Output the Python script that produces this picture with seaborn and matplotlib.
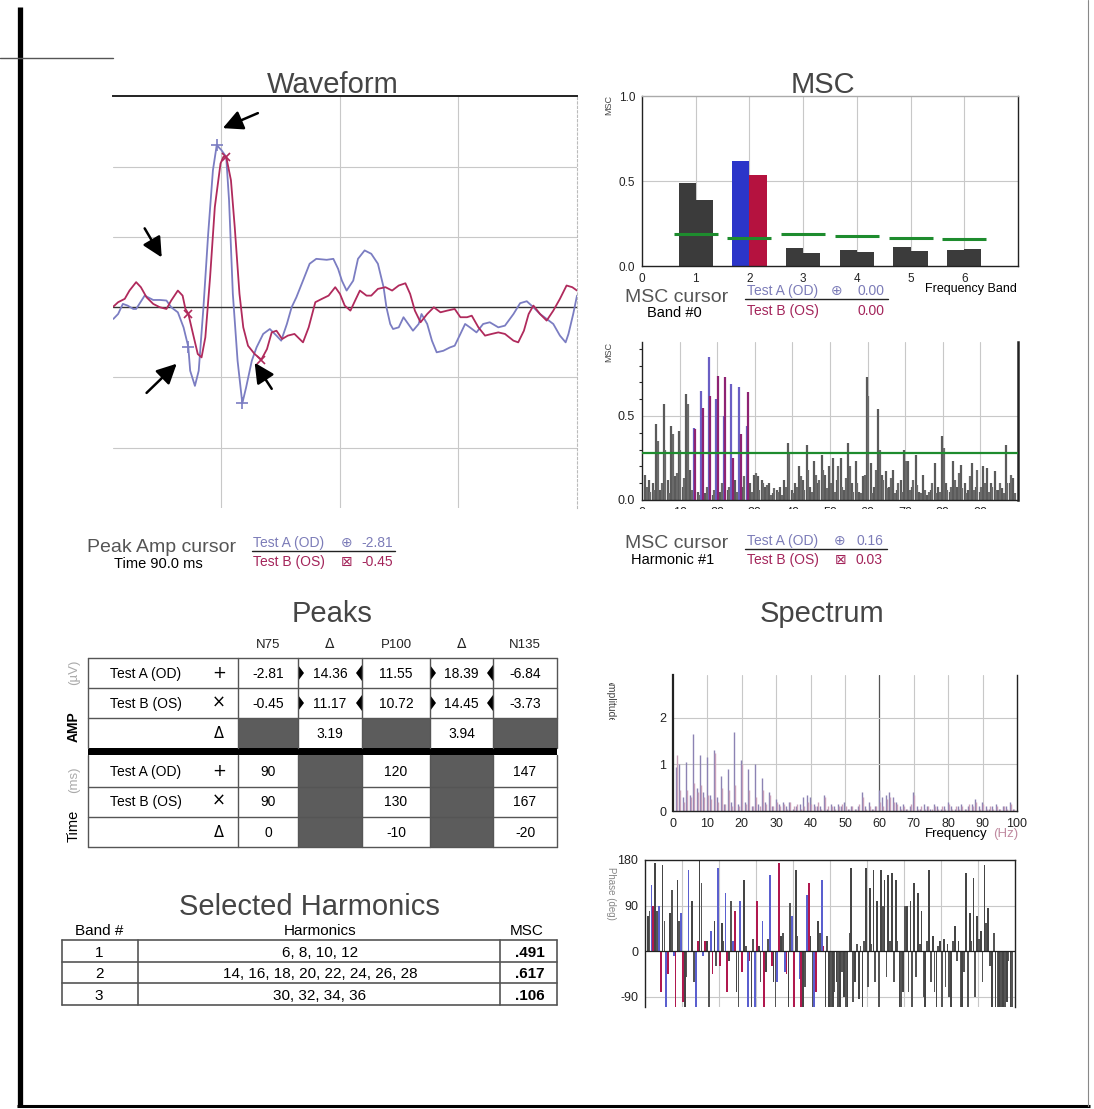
import numpy as np
import pandas as pd
import matplotlib
matplotlib.use("Agg")
import matplotlib.pyplot as plt
import seaborn as sns
from matplotlib.patches import Rectangle, Polygon
from matplotlib.transforms import Bbox

# ---------------- data ----------------
# Waveform (time in ms, amplitude in uV)
wave_a_t = [11, 16, 21, 26, 32, 35, 44, 53, 60, 67, 72, 79, 85, 90, 92, 97, 101, 106, 111, 116,
            120, 125, 130, 133, 137, 142, 147, 151, 157, 162, 169, 176, 183, 188, 194, 199, 204,
            211, 218, 225, 236, 243, 248, 252, 257, 264, 269, 276, 283, 290, 296, 299, 303, 306,
            312, 317, 322, 327, 333, 336, 342, 347, 352, 359, 366, 371, 377, 382, 387, 394, 401,
            408, 417, 424, 433, 440, 447, 454, 461, 468, 475, 482, 488, 491, 496, 500]
wave_a_v = [-0.83, -0.48, 0.24, 0.12, -0.12, -0.12, 0.83, 0.52, 0.52, 0.48, 0.0, -0.36, -1.43,
            -2.81, -4.52, -5.60, -4.52, 0.0, 5.24, 9.76, 11.55, 11.19, 10.71, 7.62, 0.95, -3.81,
            -6.84, -5.71, -3.81, -2.86, -1.90, -1.55, -2.02, -2.38, -1.19, 0.0, 0.71, 1.90, 3.10,
            3.45, 3.38, 3.45, 2.74, 1.90, 1.19, 1.90, 3.45, 4.05, 3.81, 3.10, 1.43, 0.0, -1.19,
            -1.55, -1.43, -0.71, -1.19, -1.67, -1.19, -0.48, -1.19, -2.38, -3.21, -3.10, -2.86,
            -2.74, -1.90, -1.19, -1.43, -1.79, -1.19, -1.07, -1.43, -1.31, -0.48, 0.29, 0.43, 0.0,
            -0.48, -0.83, -1.19, -2.02, -2.50, -1.90, -0.48, 0.83]
wave_b_t = [11, 16, 23, 28, 35, 40, 46, 53, 60, 67, 72, 79, 84, 87, 90, 95, 100, 104, 108, 113,
            118, 124, 127, 130, 135, 139, 144, 148, 153, 160, 167, 173, 178, 183, 189, 195, 202,
            211, 217, 224, 231, 238, 245, 250, 255, 261, 266, 271, 278, 283, 290, 298, 305, 312,
            319, 324, 329, 335, 342, 349, 356, 363, 371, 377, 384, 389, 396, 403, 410, 417, 424,
            433, 438, 444, 449, 454, 461, 468, 475, 482, 489, 495, 500]
wave_b_v = [0.05, 0.36, 0.60, 1.19, 1.79, 1.43, 0.71, 0.24, 0.0, -0.12, 0.48, 1.19, 0.83, -0.12,
            -0.45, -1.90, -3.33, -3.57, -2.14, 2.14, 7.14, 10.24, 10.71, 10.72, 9.05, 5.71, 0.95,
            -1.43, -2.74, -3.33, -3.73, -2.98, -1.79, -1.67, -2.26, -2.02, -1.90, -2.50, -1.43,
            0.36, 0.60, 0.83, 1.43, 0.95, 0.12, -0.24, 0.48, 1.19, 0.83, 0.83, 1.31, 1.43, 1.19,
            1.55, 1.71, 0.95, -0.24, -1.07, -0.48, 0.0, -0.36, -0.24, -0.12, -0.71, -0.71, -0.60,
            -1.43, -2.02, -1.90, -1.79, -1.90, -2.38, -2.50, -1.67, -0.48, 0.12, -0.48, -0.95,
            -0.24, 0.60, 1.55, 1.43, 1.19]
peak_names = ["N75", "P100", "N135"]
peak_a_t = [90, 120, 147]
peak_a_v = [-2.81, 11.55, -6.84]
peak_b_t = [90, 130, 167]
peak_b_v = [-0.45, 10.72, -3.73]

# MSC per frequency band
bands = [1, 2, 3, 4, 5, 6]
band_msc_a = [0.491, 0.617, 0.106, 0.094, 0.112, 0.092]
band_msc_b = [0.387, 0.534, 0.079, 0.084, 0.088, 0.098]
band_crit = [0.19, 0.165, 0.19, 0.175, 0.167, 0.157]

# per-harmonic values (harmonic 1..99)
harmonics = list(range(1, 100))
msc_a = [0.15, 0.12, 0.10, 0.45, 0.06, 0.57, 0.12, 0.44, 0.14, 0.41,
         0.08, 0.63, 0.18, 0.43, 0.05, 0.65, 0.04, 0.85, 0.03, 0.60,
         0.05, 0.50, 0.06, 0.69, 0.12, 0.67, 0.08, 0.44, 0.10, 0.15,
         0.14, 0.12, 0.08, 0.10, 0.04, 0.06, 0.08, 0.12, 0.34, 0.06,
         0.10, 0.20, 0.12, 0.33, 0.08, 0.23, 0.10, 0.27, 0.15, 0.20,
         0.25, 0.12, 0.25, 0.06, 0.34, 0.10, 0.23, 0.05, 0.14, 0.73,
         0.22, 0.08, 0.54, 0.15, 0.17, 0.08, 0.18, 0.06, 0.12, 0.30,
         0.23, 0.08, 0.27, 0.05, 0.15, 0.03, 0.06, 0.22, 0.08, 0.38,
         0.10, 0.05, 0.23, 0.08, 0.21, 0.10, 0.06, 0.22, 0.08, 0.05,
         0.20, 0.19, 0.10, 0.17, 0.06, 0.07, 0.33, 0.10, 0.13]
msc_b = [0.08, 0.05, 0.06, 0.35, 0.10, 0.30, 0.04, 0.39, 0.16, 0.30,
         0.13, 0.57, 0.06, 0.42, 0.03, 0.55, 0.08, 0.62, 0.06, 0.74,
         0.10, 0.73, 0.08, 0.25, 0.05, 0.39, 0.14, 0.64, 0.05, 0.16,
         0.06, 0.10, 0.09, 0.03, 0.07, 0.05, 0.03, 0.08, 0.28, 0.04,
         0.08, 0.14, 0.06, 0.18, 0.05, 0.15, 0.12, 0.18, 0.07, 0.10,
         0.05, 0.20, 0.08, 0.13, 0.20, 0.05, 0.10, 0.04, 0.15, 0.62,
         0.04, 0.18, 0.30, 0.12, 0.07, 0.13, 0.04, 0.10, 0.05, 0.23,
         0.06, 0.12, 0.09, 0.04, 0.06, 0.05, 0.10, 0.04, 0.05, 0.31,
         0.06, 0.08, 0.12, 0.16, 0.07, 0.04, 0.14, 0.06, 0.18, 0.08,
         0.10, 0.05, 0.08, 0.06, 0.10, 0.04, 0.10, 0.15, 0.04]
msc_crit = 0.277
spec_a = [0.95, 1.0, 0.3, 1.05, 0.35, 1.65, 0.5, 1.2, 0.4, 1.15,
          0.35, 1.3, 0.3, 0.75, 0.15, 0.9, 0.2, 1.7, 0.15, 1.1,
          0.2, 0.9, 0.1, 1.0, 0.15, 0.7, 0.2, 0.4, 0.1, 0.25,
          0.15, 0.2, 0.1, 0.2, 0.05, 0.1, 0.15, 0.3, 0.35, 0.3,
          0.15, 0.1, 0.1, 0.35, 0.05, 0.15, 0.1, 0.15, 0.1, 0.2,
          0.05, 0.1, 0.05, 0.1, 0.4, 0.1, 0.2, 0.05, 0.1, 0.45,
          0.3, 0.35, 0.4, 0.3, 0.2, 0.1, 0.15, 0.05, 0.1, 0.4,
          0.1, 0.05, 0.15, 0.1, 0.05, 0.15, 0.1, 0.05, 0.1, 0.2,
          0.1, 0.05, 0.1, 0.15, 0.05, 0.1, 0.15, 0.25, 0.1, 0.2,
          0.1, 0.05, 0.1, 0.15, 0.05, 0.1, 0.1, 0.2, 0.05]
spec_b = [1.2, 0.45, 0.2, 0.45, 0.3, 0.6, 0.4, 0.55, 0.3, 0.35,
          0.25, 1.25, 0.2, 0.5, 0.15, 0.45, 0.1, 0.55, 0.1, 1.0,
          0.15, 0.45, 0.1, 0.3, 0.1, 0.45, 0.15, 0.35, 0.1, 0.2,
          0.1, 0.15, 0.05, 0.2, 0.1, 0.15, 0.05, 0.1, 0.2, 0.15,
          0.1, 0.2, 0.05, 0.3, 0.1, 0.1, 0.05, 0.1, 0.15, 0.1,
          0.05, 0.1, 0.05, 0.15, 0.3, 0.05, 0.1, 0.05, 0.1, 0.2,
          0.1, 0.25, 0.3, 0.2, 0.15, 0.05, 0.1, 0.05, 0.15, 0.35,
          0.05, 0.1, 0.05, 0.1, 0.05, 0.1, 0.05, 0.1, 0.05, 0.15,
          0.05, 0.1, 0.05, 0.1, 0.05, 0.15, 0.1, 0.2, 0.05, 0.15,
          0.05, 0.1, 0.05, 0.1, 0.05, 0.1, 0.05, 0.15, 0.05]
phase_a = [70, 130, 175, 90, 170, -115, 75, -10, 140, 75,
           -115, 160, 100, -115, 180, -10, 20, 40, 60, 165,
           55, 115, -20, 20, -80, 100, 140, -115, -115, -115,
           10, 60, -40, 150, -60, -60, 30, -40, -115, 70,
           160, -55, -115, 110, 30, -115, 60, 140, -115, -115,
           -115, -60, -115, -90, -115, 165, -60, -95, -115, 165,
           125, 160, 100, 160, 140, 150, 155, 140, -115, -80,
           90, 100, 135, 115, 80, -115, 160, 30, -115, 20,
           25, 15, -115, 50, 20, -115, 155, 75, 145, 70,
           40, 170, 85, -115, -115, -115, -115, -100, -115]
phase_b = [80, 90, 80, -80, 60, -45, 120, -115, 60, -100,
           -50, 0, -60, 20, 135, 20, -115, -45, -30, -30,
           20, -80, 100, 80, -115, -40, 10, -20, 25, 100,
           -60, -115, 25, -30, -115, 175, 35, -45, 95, -115,
           30, -115, -70, 135, -115, -80, 35, 10, 30, -115,
           -80, -115, -40, -115, 35, -100, 15, 10, 20, -70,
           15, -60, -115, 90, -50, 20, -60, 20, -115, 90,
           -80, -115, -50, 15, -90, 20, -60, -80, 10, -115,
           -70, -90, 20, -20, -115, -40, -115, 20, -90, 25,
           -60, 55, -30, 35, -115, -115, -115, -20, -115]

# Peaks table
peak_cols = ["N75", "\u0394", "P100", "\u0394", "N135"]
amp_a = ["-2.81", "14.36", "11.55", "18.39", "-6.84"]
amp_b = ["-0.45", "11.17", "10.72", "14.45", "-3.73"]
amp_d = ["", "3.19", "", "3.94", ""]
time_a = ["90", "", "120", "", "147"]
time_b = ["90", "", "130", "", "167"]
time_d = ["0", "", "-10", "", "-20"]

# Selected harmonics table
sel_band = ["1", "2", "3"]
sel_harm = ["6, 8, 10, 12", "14, 16, 18, 20, 22, 24, 26, 28", "30, 32, 34, 36"]
sel_msc = [".491", ".617", ".106"]

# ---------------- style ----------------
sns.set_theme(style="white")
plt.rcParams["font.family"] = ["Liberation Sans", "DejaVu Sans"]
plt.rcParams["axes.unicode_minus"] = False
SYM = ["DejaVu Sans"]

W, H = 1094, 1109
COL_A = "#7b7dc2"
COL_B = "#b02a5c"
TXT_A = "#7c7cb8"
TXT_B = "#a3245a"
TITLE = "#454545"
GREEN = "#1e8c2e"
GRID = "#c8c8c8"
DARK = "#3b3b3b"

fig = plt.figure(figsize=(W / 100, H / 100), dpi=100)
fig.patch.set_facecolor("white")


def add_ax(x0, y0, x1, y1):
    return fig.add_axes([x0 / W, 1 - y1 / H, (x1 - x0) / W, (y1 - y0) / H])


def style_ticks(ax, size=8.5):
    ax.tick_params(axis="both", labelsize=size, colors="#222222", length=3, width=0.8,
                   pad=2, direction="out")


# ---------------- Waveform ----------------
ax = add_ax(113, 96, 577, 508)
ax.set_xlim(10.6, 500)
ax.set_ylim(-14.3, 15.05)
for gx in [125, 250, 375]:
    ax.axvline(gx, color=GRID, lw=0.8, zorder=0)
for gy in [-10, -5, 5, 10]:
    ax.axhline(gy, color=GRID, lw=0.8, zorder=0)
ax.axhline(0, color="#333333", lw=1.0, zorder=1)
sns.lineplot(x=wave_a_t, y=wave_a_v, color=COL_A, lw=1.3, ax=ax, estimator=None, sort=False)
sns.lineplot(x=wave_b_t, y=wave_b_v, color=COL_B, lw=1.3, ax=ax, estimator=None, sort=False)
ax.plot(peak_a_t, peak_a_v, ls="none", marker="+", ms=8, mew=1.2, color=COL_A)
ax.plot(peak_b_t, peak_b_v, ls="none", marker="x", ms=6, mew=1.2, color=COL_B)
arrows = [((126.4, 12.76), (163.4, 13.83)), ((62, 3.55), (44, 5.62)),
          ((77.8, -4.02), (46, -6.1)), ((160, -3.95), (178, -5.81))]
for head, tail in arrows:
    ax.annotate("", xy=head, xytext=tail,
                arrowprops=dict(arrowstyle="-|>,head_length=0.6,head_width=0.3",
                                mutation_scale=20, lw=1.8, color="black",
                                shrinkA=0, shrinkB=0))
ax.set_xticks([]); ax.set_yticks([])
ax.set_xlabel(""); ax.set_ylabel("")
for s in ["left", "bottom"]:
    ax.spines[s].set_visible(False)
ax.spines["top"].set_color("#222222"); ax.spines["top"].set_linewidth(1.4)
ax.spines["right"].set_color("#bbbbbb"); ax.spines["right"].set_linewidth(0.8)
ax.spines["right"].set_linestyle((0, (2, 2)))

# ---------------- MSC per band ----------------
ax2 = add_ax(642, 96, 1018, 266)
df = pd.DataFrame({"band": bands * 2, "msc": band_msc_a + band_msc_b,
                   "test": ["A"] * len(bands) + ["B"] * len(bands)})
for b in bands:
    ax2.axvline(b, color=GRID, lw=0.8, zorder=0)
ax2.axhline(0.5, color=GRID, lw=0.8, zorder=0)
sns.barplot(data=df, x="band", y="msc", hue="test", native_scale=True, width=0.64,
            palette={"A": DARK, "B": DARK}, saturation=1, legend=False, ax=ax2,
            edgecolor="none", linewidth=0, errorbar=None)
for p in ax2.patches:
    cx = p.get_x() + p.get_width() / 2
    if abs(cx - 2) < 0.5:
        p.set_facecolor("#2b35c9" if cx < 2 else "#b5123f")
ax2.hlines(band_crit, np.array(bands) - 0.41, np.array(bands) + 0.41, colors=GREEN, lw=2.2, zorder=5)
ax2.set_xlim(0, 7)
ax2.set_ylim(0, 1.0)
ax2.set_xticks(range(0, 7))
ax2.set_xticklabels([str(i) for i in range(0, 7)])
ax2.set_yticks([0, 0.5, 1.0])
ax2.set_yticklabels(["0.0", "0.5", "1.0"])
ax2.set_xlabel(""); ax2.set_ylabel("")
style_ticks(ax2)
for s in ax2.spines.values():
    s.set_color("#222222"); s.set_linewidth(1.0)
ax2.spines["top"].set_color("#aaaaaa")

# ---------------- MSC per harmonic ----------------
ax3 = add_ax(642, 342, 1018, 500)
hx = np.array(harmonics)
sel2 = [(h % 2 == 0 and 14 <= h <= 28) for h in harmonics]
col3a = ["#6a5fc4" if s else "#5a5a5a" for s in sel2]
col3b = ["#8e2272" if s else "#6a6a6a" for s in sel2]
for gx in range(10, 100, 10):
    ax3.axvline(gx, color=GRID, lw=0.8, zorder=0)
ax3.axhline(0.5, color=GRID, lw=0.8, zorder=0)
ax3.vlines(hx - 0.2, 0, msc_a, colors=col3a, lw=1.6)
ax3.vlines(hx + 0.2, 0, msc_b, colors=col3b, lw=1.6)
ax3.axhline(msc_crit, color=GREEN, lw=1.6, zorder=5)
ax3.set_xlim(0, 100)
ax3.set_ylim(0, 0.94)
ax3.set_xticks(range(0, 100, 10))
ax3.set_yticks([0, 0.5])
ax3.set_yticklabels(["0.0", "0.5"])
ax3.set_yticks(np.arange(0, 0.95, 0.1), minor=True)
style_ticks(ax3, 9)
ax3.tick_params(axis="y", which="minor", length=2, width=0.8, left=True)
for s in ["left", "bottom", "right"]:
    ax3.spines[s].set_color("#222222"); ax3.spines[s].set_linewidth(1.0)
ax3.spines["right"].set_linewidth(1.8)
ax3.spines["top"].set_visible(False)

# ---------------- Spectrum ----------------
ax4 = add_ax(673, 675, 1017, 811)
for gx in range(10, 100, 10):
    ax4.axvline(gx, color="#555555" if gx == 60 else GRID, lw=0.9 if gx == 60 else 0.8, zorder=0)
for gy in [1, 2]:
    ax4.axhline(gy, color=GRID, lw=0.8, zorder=0)
ax4.vlines(hx - 0.15, 0, spec_a, colors="#8c83b3", lw=1.0)
ax4.vlines(hx + 0.15, 0, spec_b, colors="#c9a1b9", lw=1.0)
ax4.set_xlim(0, 100)
ax4.set_ylim(0, 2.92)
ax4.set_xticks(range(0, 101, 10))
ax4.set_yticks([0, 1, 2])
style_ticks(ax4, 9)
for s in ["left", "bottom", "right"]:
    ax4.spines[s].set_color("#222222"); ax4.spines[s].set_linewidth(1.0)
ax4.spines["left"].set_linewidth(1.6)
ax4.spines["top"].set_visible(False)

# ---------------- Phase ----------------
ax5 = add_ax(645, 860, 1015, 1007)
colored = [(h % 2 == 0 and h <= 48) for h in harmonics]
col5a = ["#5a5fcf" if c else "#454545" for c in colored]
col5b = ["#b0184e" if c else "#555555" for c in colored]
for gx in range(10, 100, 10):
    ax5.axvline(gx, color=GRID, lw=0.8, zorder=0)
for gy in [90, -90]:
    ax5.axhline(gy, color=GRID, lw=0.8, zorder=0)
ax5.bar(hx - 0.24, phase_a, width=0.46, color=col5a, linewidth=0)
ax5.bar(hx + 0.24, phase_b, width=0.46, color=col5b, linewidth=0)
ax5.axhline(0, color="#222222", lw=0.9)
ax5.set_xlim(0, 100)
ax5.set_ylim(-110, 180)
ax5.set_xticks([])
ax5.set_yticks([180, 90, 0, -90])
style_ticks(ax5, 9)
for s in ["left", "top", "right"]:
    ax5.spines[s].set_color("#222222"); ax5.spines[s].set_linewidth(1.0)
ax5.spines["bottom"].set_visible(False)

# ---------------- canvas (text, tables, frame) ----------------
cv = fig.add_axes([0, 0, 1, 1])
cv.set_xlim(0, W)
cv.set_ylim(H, 0)
cv.axis("off")
cv.patch.set_alpha(0)


def T(x, y, s, size=10, color="black", ha="left", va="baseline", **kw):
    return cv.text(x, y, s, fontsize=size, color=color, ha=ha, va=va, **kw)


def clipped(x, y, s, box, **kw):
    t = T(x, y, s, **kw)
    x0, y0, x1, y1 = box
    t.set_clip_box(Bbox.from_extents(x0, H - y1, x1, H - y0))
    t.set_clip_on(True)
    return t


# frame
cv.plot([19.5, 19.5], [7, 1107], color="black", lw=3.8, solid_capstyle="butt")
cv.plot([17, 1090], [1106, 1106], color="black", lw=2.2, solid_capstyle="butt")
cv.plot([1088, 1088], [0, 1106], color="#888888", lw=0.8)
cv.plot([0, 113], [58, 58], color="#555555", lw=1.0)

# hide lower part of harmonic tick labels (cropped in the original)
cv.add_patch(Rectangle((625, 509), 410, 14, facecolor="white", edgecolor="none", zorder=10))

# titles
T(333, 93, "Waveform", size=21, color=TITLE, ha="center")
T(823, 93, "MSC", size=21, color=TITLE, ha="center")
T(332, 622, "Peaks", size=21, color=TITLE, ha="center")
T(822, 622, "Spectrum", size=21, color=TITLE, ha="center")
T(309, 915, "Selected Harmonics", size=21, color=TITLE, ha="center")

# axis labels
T(609, 105, "MSC", size=6.5, color="#444444", ha="center", va="center", rotation=90)
T(609, 352, "MSC", size=6.5, color="#444444", ha="center", va="center", rotation=90)
clipped(611, 700, "Amplitude", (600, 683, 625, 720), size=7.5, color="#444444",
        ha="center", va="center", rotation=270)
T(611, 893, "Phase (deg)", size=7, color="#888888", ha="center", va="center", rotation=270)
T(1017, 292, "Frequency Band", size=9, ha="right")
T(925, 837, "Frequency", size=9.5, ha="left")
T(993, 837, "(Hz)", size=9.5, color="#c08aa0", ha="left")

# waveform cursor
T(87, 552, "Peak Amp cursor", size=14, color="#555555")
T(158, 568, "Time 90.0 ms", size=10.5, ha="center")
T(253, 547, "Test A (OD)", size=10, color=TXT_A)
T(347, 547, "\u2295", size=10, color=TXT_A, ha="center", family=SYM)
T(393, 547, "-2.81", size=10, color=TXT_A, ha="right")
cv.plot([252, 395], [551, 551], color="#222222", lw=1.0)
T(253, 566, "Test B (OS)", size=10, color=TXT_B)
T(347, 566, "\u22a0", size=10, color=TXT_B, ha="center", family=SYM)
T(393, 566, "-0.45", size=10, color=TXT_B, ha="right")

# MSC band cursor
T(625, 302, "MSC cursor", size=14, color="#555555")
T(674, 317, "Band #0", size=10.5, ha="center")
T(747, 295, "Test A (OD)", size=10, color=TXT_A)
T(837, 295, "\u2295", size=10, color=TXT_A, ha="center", family=SYM)
T(885, 295, "0.00", size=10, color=TXT_A, ha="right")
cv.plot([745, 888], [299, 299], color="#222222", lw=1.0)
T(747, 315, "Test B (OS)", size=10, color=TXT_B)
T(885, 315, "0.00", size=10, color=TXT_B, ha="right")

# MSC harmonic cursor
T(625, 548, "MSC cursor", size=14, color="#555555")
T(673, 564, "Harmonic #1", size=10.5, ha="center")
T(747, 545, "Test A (OD)", size=10, color=TXT_A)
T(840, 545, "\u2295", size=10, color=TXT_A, ha="center", family=SYM)
T(883, 545, "0.16", size=10, color=TXT_A, ha="right")
cv.plot([745, 887], [549, 549], color="#222222", lw=1.0)
T(747, 564, "Test B (OS)", size=10, color=TXT_B)
T(841, 564, "\u22a0", size=10, color=TXT_B, ha="center", family=SYM)
T(883, 564, "0.03", size=10, color=TXT_B, ha="right")

# ---------------- Peaks table ----------------
LINE = "#555555"
cx = [88, 238, 298, 362, 430, 493, 557]
amp_rows = [658, 688, 718, 748]
time_rows = [755, 787, 817, 847]
SHADE = "#5c5c5c"
for j, v in enumerate(amp_d):
    if v == "":
        cv.add_patch(Rectangle((cx[j + 1], amp_rows[2]), cx[j + 2] - cx[j + 1],
                               amp_rows[3] - amp_rows[2], facecolor=SHADE, edgecolor="none"))
for j, v in enumerate(time_a):
    if v == "":
        cv.add_patch(Rectangle((cx[j + 1], time_rows[0]), cx[j + 2] - cx[j + 1],
                               time_rows[3] - time_rows[0], facecolor=SHADE, edgecolor="none"))
for y in amp_rows[:3] + time_rows[1:]:
    cv.plot([cx[0], cx[-1]], [y, y], color=LINE, lw=1.0)
for x in cx:
    cv.plot([x, x], [amp_rows[0], amp_rows[3]], color=LINE, lw=1.0)
    cv.plot([x, x], [time_rows[0], time_rows[3]], color=LINE, lw=1.0)
cv.add_patch(Rectangle((cx[0], 748), cx[-1] - cx[0], 7, facecolor="black", edgecolor="none"))
for j, name in enumerate(peak_cols):
    T((cx[j + 1] + cx[j + 2]) / 2, 648, name, size=10 if name == "\u0394" else 9.5,
      ha="center", color="#222222", family=SYM if name == "\u0394" else None)
for yc in [673, 703]:
    for j in [1, 3]:
        xl, xr = cx[j + 1], cx[j + 2]
        cv.add_patch(Polygon([(xl, yc - 8), (xl, yc + 8), (xl + 6, yc)], closed=True,
                             facecolor="black", edgecolor="none"))
        cv.add_patch(Polygon([(xr, yc - 8), (xr, yc + 8), (xr - 6, yc)], closed=True,
                             facecolor="black", edgecolor="none"))
row_specs = [(678, "Test A (OD)", "+", amp_a), (708, "Test B (OS)", "\u00d7", amp_b),
             (738, "", "\u0394", amp_d), (776, "Test A (OD)", "+", time_a),
             (806, "Test B (OS)", "\u00d7", time_b), (837, "", "\u0394", time_d)]
for yb, name, sym, vals in row_specs:
    if name:
        T(110, yb, name, size=10)
    T(219, yb, sym, size=12 if sym != "\u0394" else 10.5, ha="center", family=SYM)
    for j, v in enumerate(vals):
        if v:
            T((cx[j + 1] + cx[j + 2]) / 2, yb, v, size=10, ha="center")
T(74, 727, "AMP", size=10, ha="center", va="center", rotation=90, weight="bold")
T(74, 672, "(\u00b5V)", size=9.5, ha="center", va="center", rotation=90, color="#aaaaaa")
T(74, 826, "Time", size=10.5, ha="center", va="center", rotation=90)
T(74, 780, "(ms)", size=9.5, ha="center", va="center", rotation=90, color="#aaaaaa")

# ---------------- Selected harmonics table ----------------
sx = [62, 138, 500, 557]
sy = [940, 962, 983, 1005]
T(99, 935, "Band #", size=11, ha="center")
T(320, 935, "Harmonics", size=11, ha="center")
T(527, 935, "MSC", size=11, ha="center")
for y in sy:
    cv.plot([sx[0], sx[-1]], [y, y], color=LINE, lw=1.2)
for x in sx:
    cv.plot([x, x], [sy[0], sy[-1]], color=LINE, lw=1.2)
for i in range(len(sel_band)):
    yb = sy[i + 1] - 5
    T(99, yb, sel_band[i], size=11, ha="center")
    T(320, yb, sel_harm[i], size=11, ha="center")
    T(530, yb, sel_msc[i], size=11, ha="center", weight="bold")

fig.savefig("out.png", dpi=100, facecolor="white")
